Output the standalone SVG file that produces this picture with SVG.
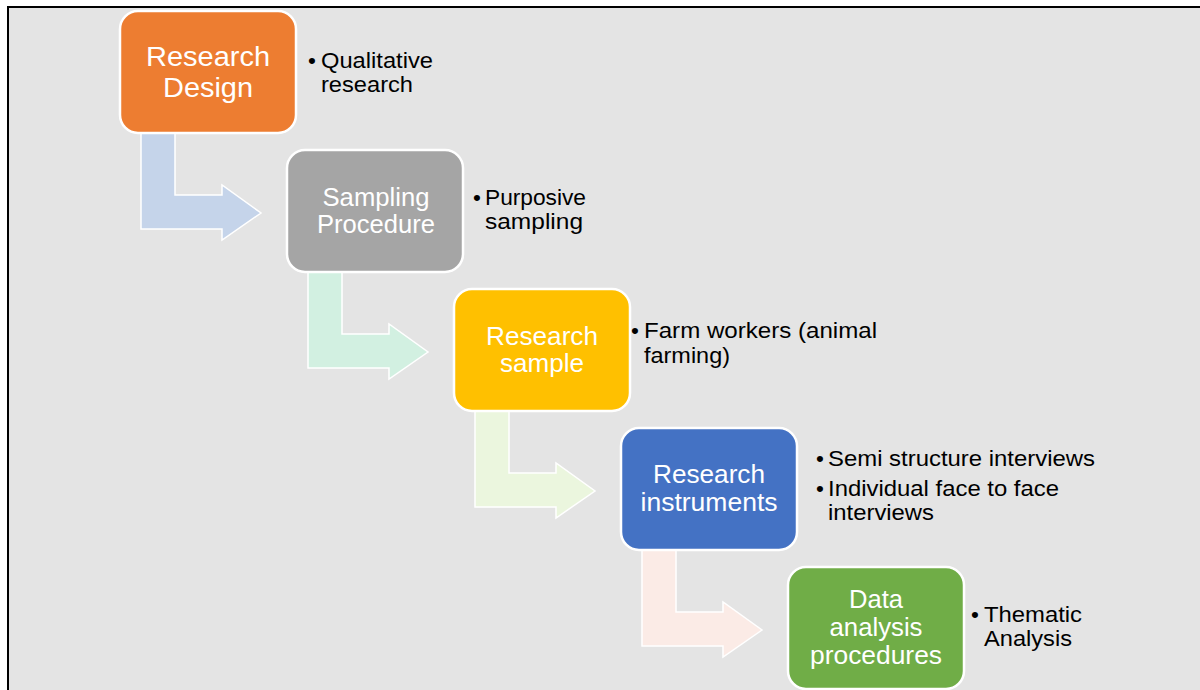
<svg xmlns="http://www.w3.org/2000/svg" width="1200" height="690" viewBox="0 0 1200 690">
  <defs>
    <style>
      .box { stroke: #ffffff; stroke-width: 2.5; }
      .arrow { stroke: #ffffff; stroke-width: 1.5; }
      .label { font-family: "Liberation Sans", Arial, sans-serif; font-size: 25px; fill: #ffffff; text-anchor: middle; }
      .big { font-size: 27px; }
      .note { font-family: "Liberation Sans", Arial, sans-serif; font-size: 22.5px; fill: #000000; }
    </style>
    <!-- bent arrow shape, origin at top-left of its vertical bar -->
    <path id="bent" d="M0,0 H34 V62 H81 V52 L120,80 L81,107 V96 H0 Z"/>
  </defs>

  <rect x="0" y="0" width="1200" height="690" fill="#ffffff"/>
  <rect x="8" y="7" width="1200" height="690" fill="#e4e4e4" stroke="#000000" stroke-width="2"/>

  <g id="connectors">
    <use href="#bent" class="arrow" x="141" y="133" fill="#c5d4ea"/>
    <use href="#bent" class="arrow" x="308" y="272" fill="#d2f0e1"/>
    <use href="#bent" class="arrow" x="475" y="411" fill="#ebf6de"/>
    <use href="#bent" class="arrow" x="642" y="550" fill="#fbebe6"/>
  </g>

  <g id="research-design">
    <rect class="box" x="120" y="11" width="176" height="122" rx="18" fill="#ed7d31"/>
    <text class="label big" x="208" y="66" textLength="124" lengthAdjust="spacingAndGlyphs">Research</text>
    <text class="label big" x="208" y="97" textLength="90" lengthAdjust="spacingAndGlyphs">Design</text>
    <text class="note" x="308" y="68">•</text>
    <text class="note" x="321" y="68" textLength="112" lengthAdjust="spacingAndGlyphs">Qualitative</text>
    <text class="note" x="321" y="92" textLength="92" lengthAdjust="spacingAndGlyphs">research</text>
  </g>

  <g id="sampling-procedure">
    <rect class="box" x="287" y="150" width="176" height="122" rx="18" fill="#a5a5a5"/>
    <text class="label" x="376" y="206" textLength="107" lengthAdjust="spacingAndGlyphs">Sampling</text>
    <text class="label" x="376" y="233" textLength="118" lengthAdjust="spacingAndGlyphs">Procedure</text>
    <text class="note" x="473" y="205">•</text>
    <text class="note" x="485" y="205" textLength="101" lengthAdjust="spacingAndGlyphs">Purposive</text>
    <text class="note" x="485" y="229" textLength="98" lengthAdjust="spacingAndGlyphs">sampling</text>
  </g>

  <g id="research-sample">
    <rect class="box" x="454" y="289" width="176" height="122" rx="18" fill="#ffc000"/>
    <text class="label" x="542" y="345" textLength="112" lengthAdjust="spacingAndGlyphs">Research</text>
    <text class="label" x="542" y="372" textLength="84" lengthAdjust="spacingAndGlyphs">sample</text>
    <text class="note" x="631" y="338">•</text>
    <text class="note" x="644" y="338" textLength="233" lengthAdjust="spacingAndGlyphs">Farm workers (animal</text>
    <text class="note" x="644" y="363" textLength="86" lengthAdjust="spacingAndGlyphs">farming)</text>
  </g>

  <g id="research-instruments">
    <rect class="box" x="621" y="428" width="176" height="122" rx="18" fill="#4472c4"/>
    <text class="label" x="709" y="483" textLength="112" lengthAdjust="spacingAndGlyphs">Research</text>
    <text class="label" x="709" y="511" textLength="137" lengthAdjust="spacingAndGlyphs">instruments</text>
    <text class="note" x="816" y="466">•</text>
    <text class="note" x="828" y="466" textLength="267" lengthAdjust="spacingAndGlyphs">Semi structure interviews</text>
    <text class="note" x="816" y="496">•</text>
    <text class="note" x="828" y="496" textLength="231" lengthAdjust="spacingAndGlyphs">Individual face to face</text>
    <text class="note" x="828" y="520" textLength="106" lengthAdjust="spacingAndGlyphs">interviews</text>
  </g>

  <g id="data-analysis">
    <rect class="box" x="788" y="567" width="176" height="122" rx="18" fill="#70ad47"/>
    <text class="label" x="876" y="608" textLength="54" lengthAdjust="spacingAndGlyphs">Data</text>
    <text class="label" x="876" y="636" textLength="93" lengthAdjust="spacingAndGlyphs">analysis</text>
    <text class="label" x="876" y="664" textLength="132" lengthAdjust="spacingAndGlyphs">procedures</text>
    <text class="note" x="971" y="622">•</text>
    <text class="note" x="984" y="622" textLength="98" lengthAdjust="spacingAndGlyphs">Thematic</text>
    <text class="note" x="984" y="646" textLength="88" lengthAdjust="spacingAndGlyphs">Analysis</text>
  </g>
</svg>
